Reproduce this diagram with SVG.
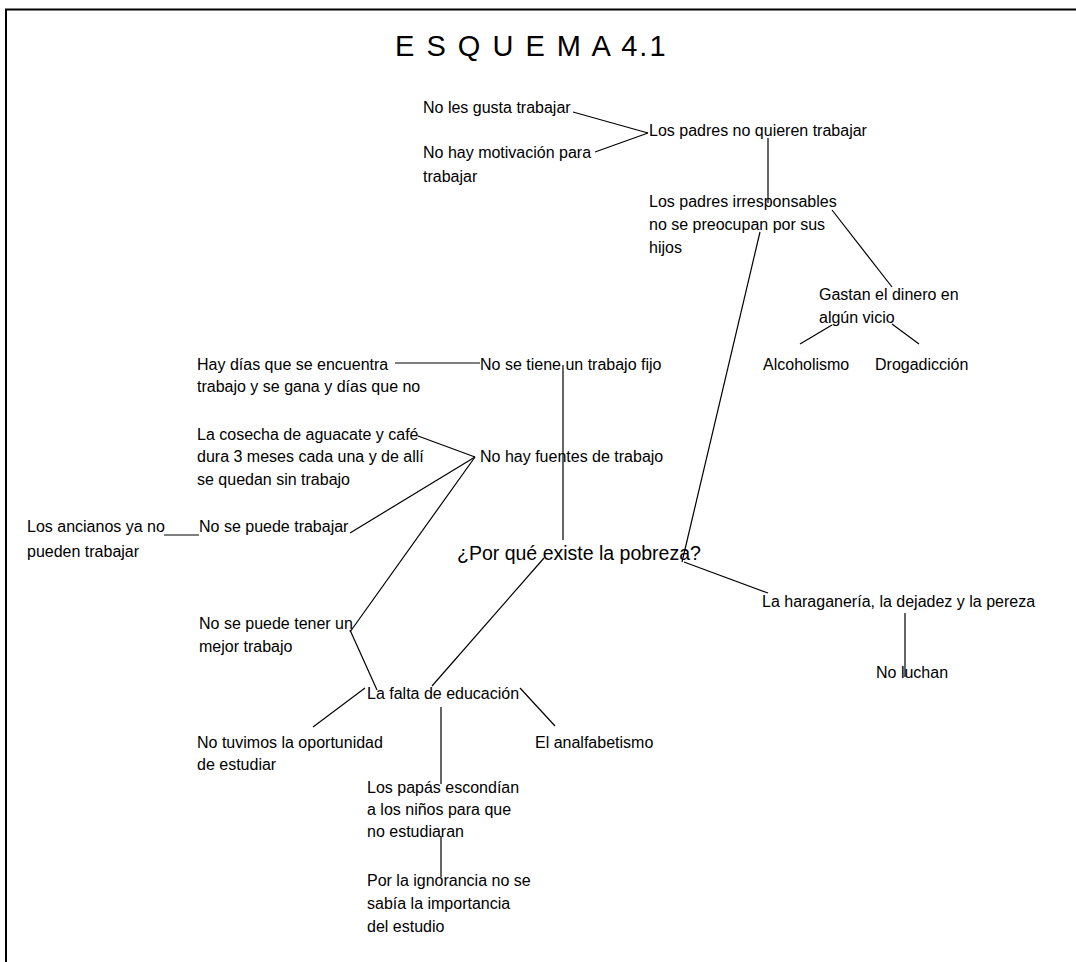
<svg xmlns="http://www.w3.org/2000/svg" width="1076" height="962" viewBox="0 0 1076 962">
<style>
text{font-family:"Liberation Sans",Arial,sans-serif;font-size:16px;fill:#000}
.title{font-size:29px;letter-spacing:2px}
.big{font-size:19.5px}
#connectors line{stroke:#000;stroke-width:1.2;fill:none}
.frame{stroke:#000;stroke-width:2;fill:none}
</style>
<rect width="1076" height="962" fill="#fff"/>
<path class="frame" d="M6 962 V9.5 H1076"/>
<g id="title"><text class="title" x="395" y="56">E S Q U E M A 4.1</text></g>
<g id="connectors">
<line x1="573" y1="112" x2="648" y2="133"/>
<line x1="648" y1="133" x2="595" y2="152"/>
<line x1="768" y1="138" x2="768" y2="203"/>
<line x1="832" y1="210" x2="892" y2="287"/>
<line x1="832" y1="325" x2="800" y2="344"/>
<line x1="892" y1="324" x2="919" y2="344"/>
<line x1="760" y1="232" x2="682" y2="562"/>
<line x1="395" y1="363" x2="480" y2="363"/>
<line x1="563" y1="365" x2="563" y2="540"/>
<line x1="418" y1="436" x2="475" y2="457"/>
<line x1="475" y1="457" x2="350" y2="533"/>
<line x1="475" y1="457" x2="350" y2="632"/>
<line x1="164" y1="535" x2="199" y2="535"/>
<line x1="350" y1="630" x2="377" y2="690"/>
<line x1="544" y1="558" x2="432" y2="686"/>
<line x1="684" y1="562" x2="768" y2="593"/>
<line x1="905" y1="613" x2="905" y2="677"/>
<line x1="365" y1="688" x2="313" y2="727"/>
<line x1="520" y1="688" x2="555" y2="726"/>
<line x1="441" y1="707" x2="441" y2="784"/>
<line x1="441" y1="836" x2="441" y2="877"/>
</g>
<g id="n-no-les-gusta"><text x="423" y="113">No les gusta trabajar</text></g>
<g id="n-no-motivacion"><text x="423" y="158">No hay motivación para</text><text x="423" y="182">trabajar</text></g>
<g id="n-padres-no-quieren"><text x="649" y="136">Los padres no quieren trabajar</text></g>
<g id="n-padres-irresponsables"><text x="649" y="207">Los padres irresponsables</text><text x="649" y="229.5">no se preocupan por sus</text><text x="649" y="253">hijos</text></g>
<g id="n-gastan"><text x="819" y="300">Gastan el dinero en</text><text x="819" y="323">algún vicio</text></g>
<g id="n-alcoholismo"><text x="763" y="370">Alcoholismo</text></g>
<g id="n-drogadiccion"><text x="875" y="370">Drogadicción</text></g>
<g id="n-hay-dias"><text x="197" y="370">Hay días que se encuentra</text><text x="197" y="392">trabajo y se gana y días que no</text></g>
<g id="n-no-trabajo-fijo"><text x="480" y="370">No se tiene un trabajo fijo</text></g>
<g id="n-cosecha"><text x="197" y="440">La cosecha de aguacate y café</text><text x="197" y="462">dura 3 meses cada una y de allí</text><text x="197" y="485">se quedan sin trabajo</text></g>
<g id="n-no-fuentes"><text x="480" y="462">No hay fuentes de trabajo</text></g>
<g id="n-ancianos"><text x="27" y="532">Los ancianos ya no</text><text x="27" y="557">pueden trabajar</text></g>
<g id="n-no-puede-trabajar"><text x="199" y="532">No se puede trabajar</text></g>
<g id="n-pobreza"><text class="big" x="457" y="560">¿Por qué existe la pobreza?</text></g>
<g id="n-haraganeria"><text x="762" y="607">La haraganería, la dejadez y la pereza</text></g>
<g id="n-no-luchan"><text x="876" y="678">No luchan</text></g>
<g id="n-mejor-trabajo"><text x="199" y="629">No se puede tener un</text><text x="199" y="652">mejor trabajo</text></g>
<g id="n-falta-educacion"><text x="367" y="699">La falta de educación</text></g>
<g id="n-no-tuvimos"><text x="197" y="748">No tuvimos la oportunidad</text><text x="197" y="770">de estudiar</text></g>
<g id="n-analfabetismo"><text x="535" y="748">El analfabetismo</text></g>
<g id="n-papas"><text x="367" y="793">Los papás escondían</text><text x="367" y="815">a los niños para que</text><text x="367" y="837">no estudiaran</text></g>
<g id="n-ignorancia"><text x="367" y="886">Por la ignorancia no se</text><text x="367" y="909">sabía la importancia</text><text x="367" y="932">del estudio</text></g>
</svg>
